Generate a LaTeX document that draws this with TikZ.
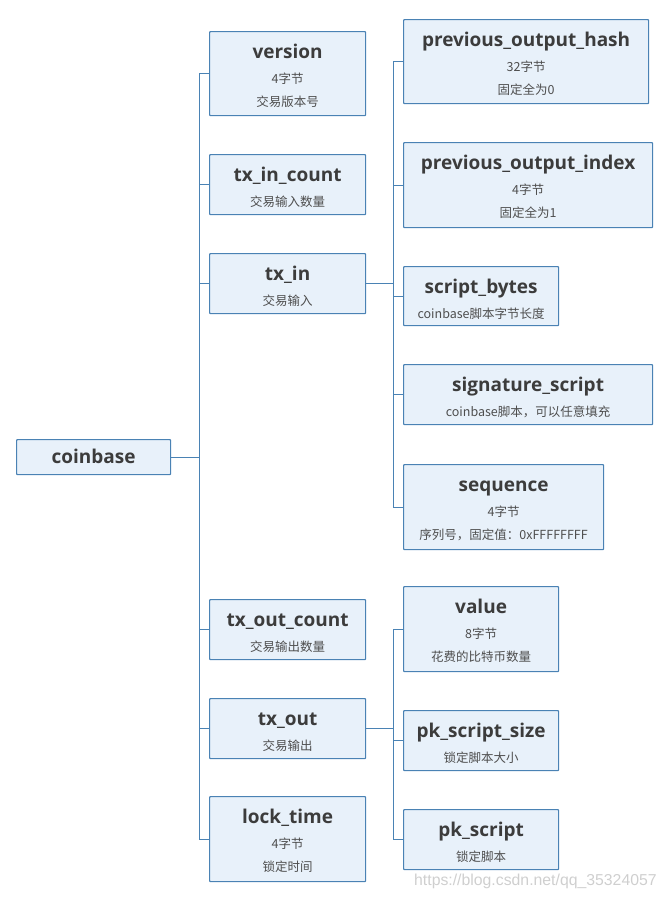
\documentclass[tikz,border=0pt]{standalone}
\usepackage{fontspec}
\newfontfamily\ttlfam{Open Sans}
\newfontfamily\cjkfam{Noto Sans CJK SC}
\newfontfamily\wmfam{Liberation Sans}
\newcommand\ttlfont{\ttlfam\bfseries\fontsize{19}{22}\selectfont}
\newcommand\subfont{\cjkfam\fontsize{12.5}{14}\selectfont}
\definecolor{bc}{HTML}{4A82B4}
\definecolor{bf}{HTML}{E8F1FA}
\definecolor{tc}{HTML}{3C3C3C}
\definecolor{sc}{HTML}{4E4E4E}
\definecolor{wm}{HTML}{CFCFCF}
\tikzset{
  bx/.style={draw=bc, fill=bf, line width=1.2pt, inner sep=0pt, anchor=north west, rounded corners=0.8pt},
  ttl/.style={font=\ttlfont, text=tc, anchor=base, inner sep=0pt},
  sb/.style={font=\subfont, text=sc, anchor=base, inner sep=0pt},
  ln/.style={draw=bc, line width=1pt}
}
\begin{document}
\begin{tikzpicture}[x=1pt,y=-1pt]
\useasboundingbox (0,0) rectangle (667,900);
% ---------- boxes ----------
\node[bx, minimum width=154pt, minimum height=35pt] (coinbase) at (16,439) {};
\node[bx, minimum width=156pt, minimum height=84pt] (version) at (209,31) {};
\node[bx, minimum width=156pt, minimum height=60pt] (txincount) at (209,154) {};
\node[bx, minimum width=156pt, minimum height=60pt] (txin) at (209,253) {};
\node[bx, minimum width=156pt, minimum height=60pt] (txoutcount) at (209,599) {};
\node[bx, minimum width=156pt, minimum height=60pt] (txout) at (209,698) {};
\node[bx, minimum width=156pt, minimum height=85pt] (locktime) at (209,796) {};
\node[bx, minimum width=245pt, minimum height=84pt] (hash) at (403,19) {};
\node[bx, minimum width=249pt, minimum height=85pt] (index) at (403,142) {};
\node[bx, minimum width=155pt, minimum height=59pt] (sbytes) at (403,266) {};
\node[bx, minimum width=249pt, minimum height=60pt] (sigscript) at (403,364) {};
\node[bx, minimum width=200pt, minimum height=85pt] (sequence) at (403,464) {};
\node[bx, minimum width=155pt, minimum height=85pt] (value) at (403,586) {};
\node[bx, minimum width=155pt, minimum height=60pt] (pksize) at (403,710) {};
\node[bx, minimum width=155pt, minimum height=60pt] (pkscript) at (403,809) {};
% ---------- texts ----------
\node[ttl] (coinbaset) at ([yshift=-24pt]coinbase.north) {coinbase};
\node[ttl] (versiont) at ([yshift=-27pt]version.north) {version};
\node[sb] (versions1) at ([yshift=-52pt]version.north) {4字节};
\node[sb] (versions2) at ([yshift=-75pt]version.north) {交易版本号};
\node[ttl] (txincountt) at ([yshift=-27pt]txincount.north) {tx\_in\_count};
\node[sb] (txincounts) at ([yshift=-52pt]txincount.north) {交易输入数量};
\node[ttl] (txint) at ([yshift=-27pt]txin.north) {tx\_in};
\node[sb] (txins) at ([yshift=-52pt]txin.north) {交易输入};
\node[ttl] (txoutcountt) at ([yshift=-27pt]txoutcount.north) {tx\_out\_count};
\node[sb] (txoutcounts) at ([yshift=-52pt]txoutcount.north) {交易输出数量};
\node[ttl] (txoutt) at ([yshift=-27pt]txout.north) {tx\_out};
\node[sb] (txouts) at ([yshift=-52pt]txout.north) {交易输出};
\node[ttl] (locktimet) at ([yshift=-27pt]locktime.north) {lock\_time};
\node[sb] (locktimes1) at ([yshift=-52pt]locktime.north) {4字节};
\node[sb] (locktimes2) at ([yshift=-75pt]locktime.north) {锁定时间};
\node[ttl] (hasht) at ([yshift=-27pt]hash.north) {previous\_output\_hash};
\node[sb] (hashs1) at ([yshift=-52pt]hash.north) {32字节};
\node[sb] (hashs2) at ([yshift=-75pt]hash.north) {固定全为0};
\node[ttl] (indext) at ([yshift=-27pt]index.north) {previous\_output\_index};
\node[sb] (indexs1) at ([yshift=-52pt]index.north) {4字节};
\node[sb] (indexs2) at ([yshift=-75pt]index.north) {固定全为1};
\node[ttl] (sbytest) at ([yshift=-27pt]sbytes.north) {script\_bytes};
\node[sb] (sbytess) at ([yshift=-52pt]sbytes.north) {coinbase脚本字节长度};
\node[ttl] (sigscriptt) at ([yshift=-27pt]sigscript.north) {signature\_script};
\node[sb] (sigscripts) at ([yshift=-52pt]sigscript.north) {coinbase脚本，可以任意填充};
\node[ttl] (sequencet) at ([yshift=-27pt]sequence.north) {sequence};
\node[sb] (sequences1) at ([yshift=-52pt]sequence.north) {4字节};
\node[sb] (sequences2) at ([yshift=-75pt]sequence.north) {序列号，固定值：0xFFFFFFFF};
\node[ttl] (valuet) at ([yshift=-27pt]value.north) {value};
\node[sb] (values1) at ([yshift=-52pt]value.north) {8字节};
\node[sb] (values2) at ([yshift=-75pt]value.north) {花费的比特币数量};
\node[ttl] (pksizet) at ([yshift=-27pt]pksize.north) {pk\_script\_size};
\node[sb] (pksizes) at ([yshift=-52pt]pksize.north) {锁定脚本大小};
\node[ttl] (pkscriptt) at ([yshift=-27pt]pkscript.north) {pk\_script};
\node[sb] (pkscripts) at ([yshift=-52pt]pkscript.north) {锁定脚本};
% ---------- connectors ----------
\coordinate (tl) at (199,0);
\coordinate (tr) at (393,0);
\draw[ln] (coinbase.east) -- (coinbase.east -| tl);
\draw[ln] (version.west) -- (version.west -| tl) -- (locktime.west -| tl) -- (locktime.west);
\foreach \n in {txincount,txin,txoutcount,txout}{
  \draw[ln] (\n.west) -- (\n.west -| tl);
}
\draw[ln] (txin.east) -- (txin.east -| tr);
\draw[ln] (hash.west) -- (hash.west -| tr) -- (sequence.west -| tr) -- (sequence.west);
\foreach \n in {index,sbytes,sigscript}{
  \draw[ln] (\n.west) -- (\n.west -| tr);
}
\draw[ln] (txout.east) -- (txout.east -| tr);
\draw[ln] (value.west) -- (value.west -| tr) -- (pkscript.west -| tr) -- (pkscript.west);
\draw[ln] (pksize.west) -- (pksize.west -| tr);
% ---------- watermark ----------
\node[font=\wmfam\fontsize{15.8}{18}\selectfont, text=wm, anchor=base west, inner sep=0pt] (wmark) at (414,885) {https://blog.csdn.net/qq\_35324057};
\end{tikzpicture}
\end{document}
